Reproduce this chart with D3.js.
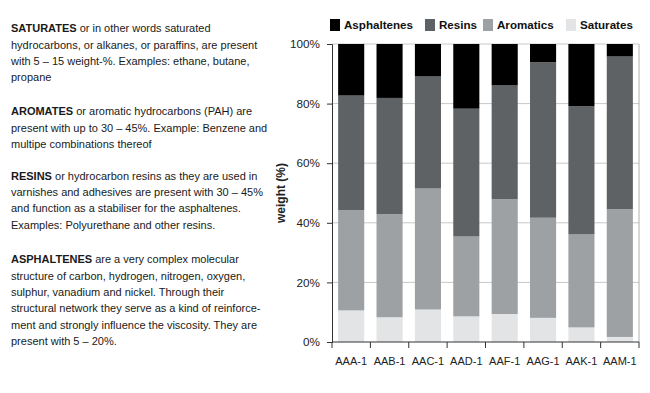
<!DOCTYPE html>
<html>
<head>
<meta charset="utf-8">
<script src="https://cdn.jsdelivr.net/npm/d3@7"></script>
<style>
  body { margin: 0; background: #fff; }
  svg { display: block; font-family: "Liberation Sans", Arial, sans-serif; }
</style>
</head>
<body>
<div id="chart"></div>
<script>
// Data (shares per fraction)
const samples = ["AAA-1", "AAB-1", "AAC-1", "AAD-1", "AAF-1", "AAG-1", "AAK-1", "AAM-1"];
const saturates = [10.6, 8.3, 10.9, 8.6, 9.4, 8.1, 4.9, 1.7];
const aromatics = [33.7, 34.6, 40.6, 26.8, 38.5, 33.6, 31.2, 42.9];
const resins = [38.4, 39.0, 37.6, 42.9, 38.2, 52.2, 43.0, 51.2];
const asphaltenes = [17.3, 18.1, 10.9, 21.7, 13.9, 6.1, 20.9, 4.2];
const yTicks = [0, 20, 40, 60, 80, 100];

const seriesNames = ["Saturates", "Aromatics", "Resins", "Asphaltenes"];
const legendOrder = ["Asphaltenes", "Resins", "Aromatics", "Saturates"];
const colors = {
  Asphaltenes: "#000000",
  Resins: "#5e6264",
  Aromatics: "#9da1a4",
  Saturates: "#e2e4e5"
};

// Side text
const paragraphs = [
  { y: 28.5, lines: [
    [["SATURATES", true], [" or in other words saturated", false]],
    [["hydrocarbons, or alkanes, or paraffins, are present", false]],
    [["with 5 \u2013 15 weight-%. Examples: ethane, butane,", false]],
    [["propane", false]]
  ]},
  { y: 111.5, lines: [
    [["AROMATES", true], [" or aromatic hydrocarbons (PAH) are", false]],
    [["present with up to 30 \u2013 45%. Example: Benzene and", false]],
    [["multipe combinations thereof", false]]
  ]},
  { y: 176, lines: [
    [["RESINS", true], [" or hydrocarbon resins as they are used in", false]],
    [["varnishes and adhesives are present with 30 \u2013 45%", false]],
    [["and function as a stabiliser for the asphaltenes.", false]],
    [["Examples: Polyurethane and other resins.", false]]
  ]},
  { y: 259.5, lines: [
    [["ASPHALTENES", true], [" are a very complex molecular", false]],
    [["structure of carbon, hydrogen, nitrogen, oxygen,", false]],
    [["sulphur, vanadium and nickel. Through their", false]],
    [["structural network they serve as a kind of reinforce-", false]],
    [["ment and strongly influence the viscosity. They are", false]],
    [["present with 5 \u2013 20%.", false]]
  ]}
];

const width = 650, height = 393;
const margin = { top: 44, right: 11, bottom: 51, left: 332 };
const innerW = width - margin.left - margin.right;
const innerH = height - margin.top - margin.bottom;

const svg = d3.select("#chart").append("svg")
  .attr("width", width)
  .attr("height", height);

// Text block
const textG = svg.append("g").attr("fill", "#1a1a1a").style("font-size", "11px");
paragraphs.forEach(function(p) {
  p.lines.forEach(function(line, i) {
    const t = textG.append("text")
      .attr("x", 11)
      .attr("y", p.y + i * 16.3)
      .attr("dy", "0.35em");
    line.forEach(function(seg) {
      t.append("tspan")
        .attr("font-weight", seg[1] ? "bold" : "normal")
        .text(seg[0]);
    });
  });
});

// Stack
const table = samples.map(function(s, i) {
  return {
    sample: s,
    Saturates: saturates[i],
    Aromatics: aromatics[i],
    Resins: resins[i],
    Asphaltenes: asphaltenes[i]
  };
});
const stacked = d3.stack().keys(seriesNames)(table);

const x = d3.scaleBand().domain(samples).range([0, innerW]).paddingInner(0.32).paddingOuter(0.16);
const y = d3.scaleLinear().domain([0, 100]).range([innerH, 0]);

const g = svg.append("g").attr("transform", "translate(" + margin.left + "," + margin.top + ")");

// Grid
g.append("g")
  .selectAll("line")
  .data(yTicks.filter(d => d > 0))
  .join("line")
  .attr("x1", 0)
  .attr("x2", innerW)
  .attr("y1", d => y(d))
  .attr("y2", d => y(d))
  .attr("stroke", "#c8c8c8")
  .attr("stroke-width", 1);

// Right frame
g.append("line")
  .attr("x1", innerW).attr("x2", innerW)
  .attr("y1", 0).attr("y2", innerH)
  .attr("stroke", "#b0b0b0");

// Bars
g.append("g")
  .selectAll("g")
  .data(stacked)
  .join("g")
  .attr("fill", d => colors[d.key])
  .selectAll("rect")
  .data(d => d)
  .join("rect")
  .attr("x", d => x(d.data.sample))
  .attr("width", x.bandwidth())
  .attr("y", d => y(d[1]))
  .attr("height", d => y(d[0]) - y(d[1]));

// Y axis
const yAxis = g.append("g")
  .call(d3.axisLeft(y).tickValues(yTicks).tickFormat(d => d + "%").tickSize(5).tickPadding(7));
yAxis.selectAll("text").attr("font-size", 11.7).attr("font-family", "Liberation Sans, Arial, sans-serif").attr("fill", "#222");
yAxis.select(".domain").attr("stroke", "#333");
yAxis.selectAll(".tick line").attr("stroke", "#333");

// X axis with ticks at band edges
const xAxisG = g.append("g").attr("transform", "translate(0," + innerH + ")");
xAxisG.append("line")
  .attr("x1", 0).attr("x2", innerW)
  .attr("stroke", "#333");
const edges = d3.range(samples.length + 1).map(i => i * innerW / samples.length);
xAxisG.selectAll(".edge")
  .data(edges)
  .join("line")
  .attr("class", "edge")
  .attr("x1", d => d).attr("x2", d => d)
  .attr("y1", 0).attr("y2", 6)
  .attr("stroke", "#333");
xAxisG.selectAll(".lab")
  .data(samples)
  .join("text")
  .attr("class", "lab")
  .attr("x", d => x(d) + x.bandwidth() / 2)
  .attr("y", 19)
  .attr("dy", "0.35em")
  .attr("text-anchor", "middle")
  .attr("font-size", 11)
  .attr("fill", "#222")
  .text(d => d);

// Y label
svg.append("text")
  .attr("transform", "translate(281," + (margin.top + innerH / 2) + ") rotate(-90)")
  .attr("text-anchor", "middle")
  .attr("dy", "0.35em")
  .attr("font-size", 12)
  .attr("font-weight", "bold")
  .attr("fill", "#222")
  .text("weight (%)");

// Legend
const legendX = [330, 425, 483, 566];
const legend = svg.append("g");
legendOrder.forEach(function(name, i) {
  legend.append("rect")
    .attr("x", legendX[i])
    .attr("y", 19)
    .attr("width", 10)
    .attr("height", 12)
    .attr("fill", colors[name]);
  legend.append("text")
    .attr("x", legendX[i] + 14)
    .attr("y", 25)
    .attr("dy", "0.35em")
    .attr("font-size", 11.6)
    .attr("font-weight", "bold")
    .attr("fill", "#111")
    .text(name);
});
</script>
</body>
</html>
